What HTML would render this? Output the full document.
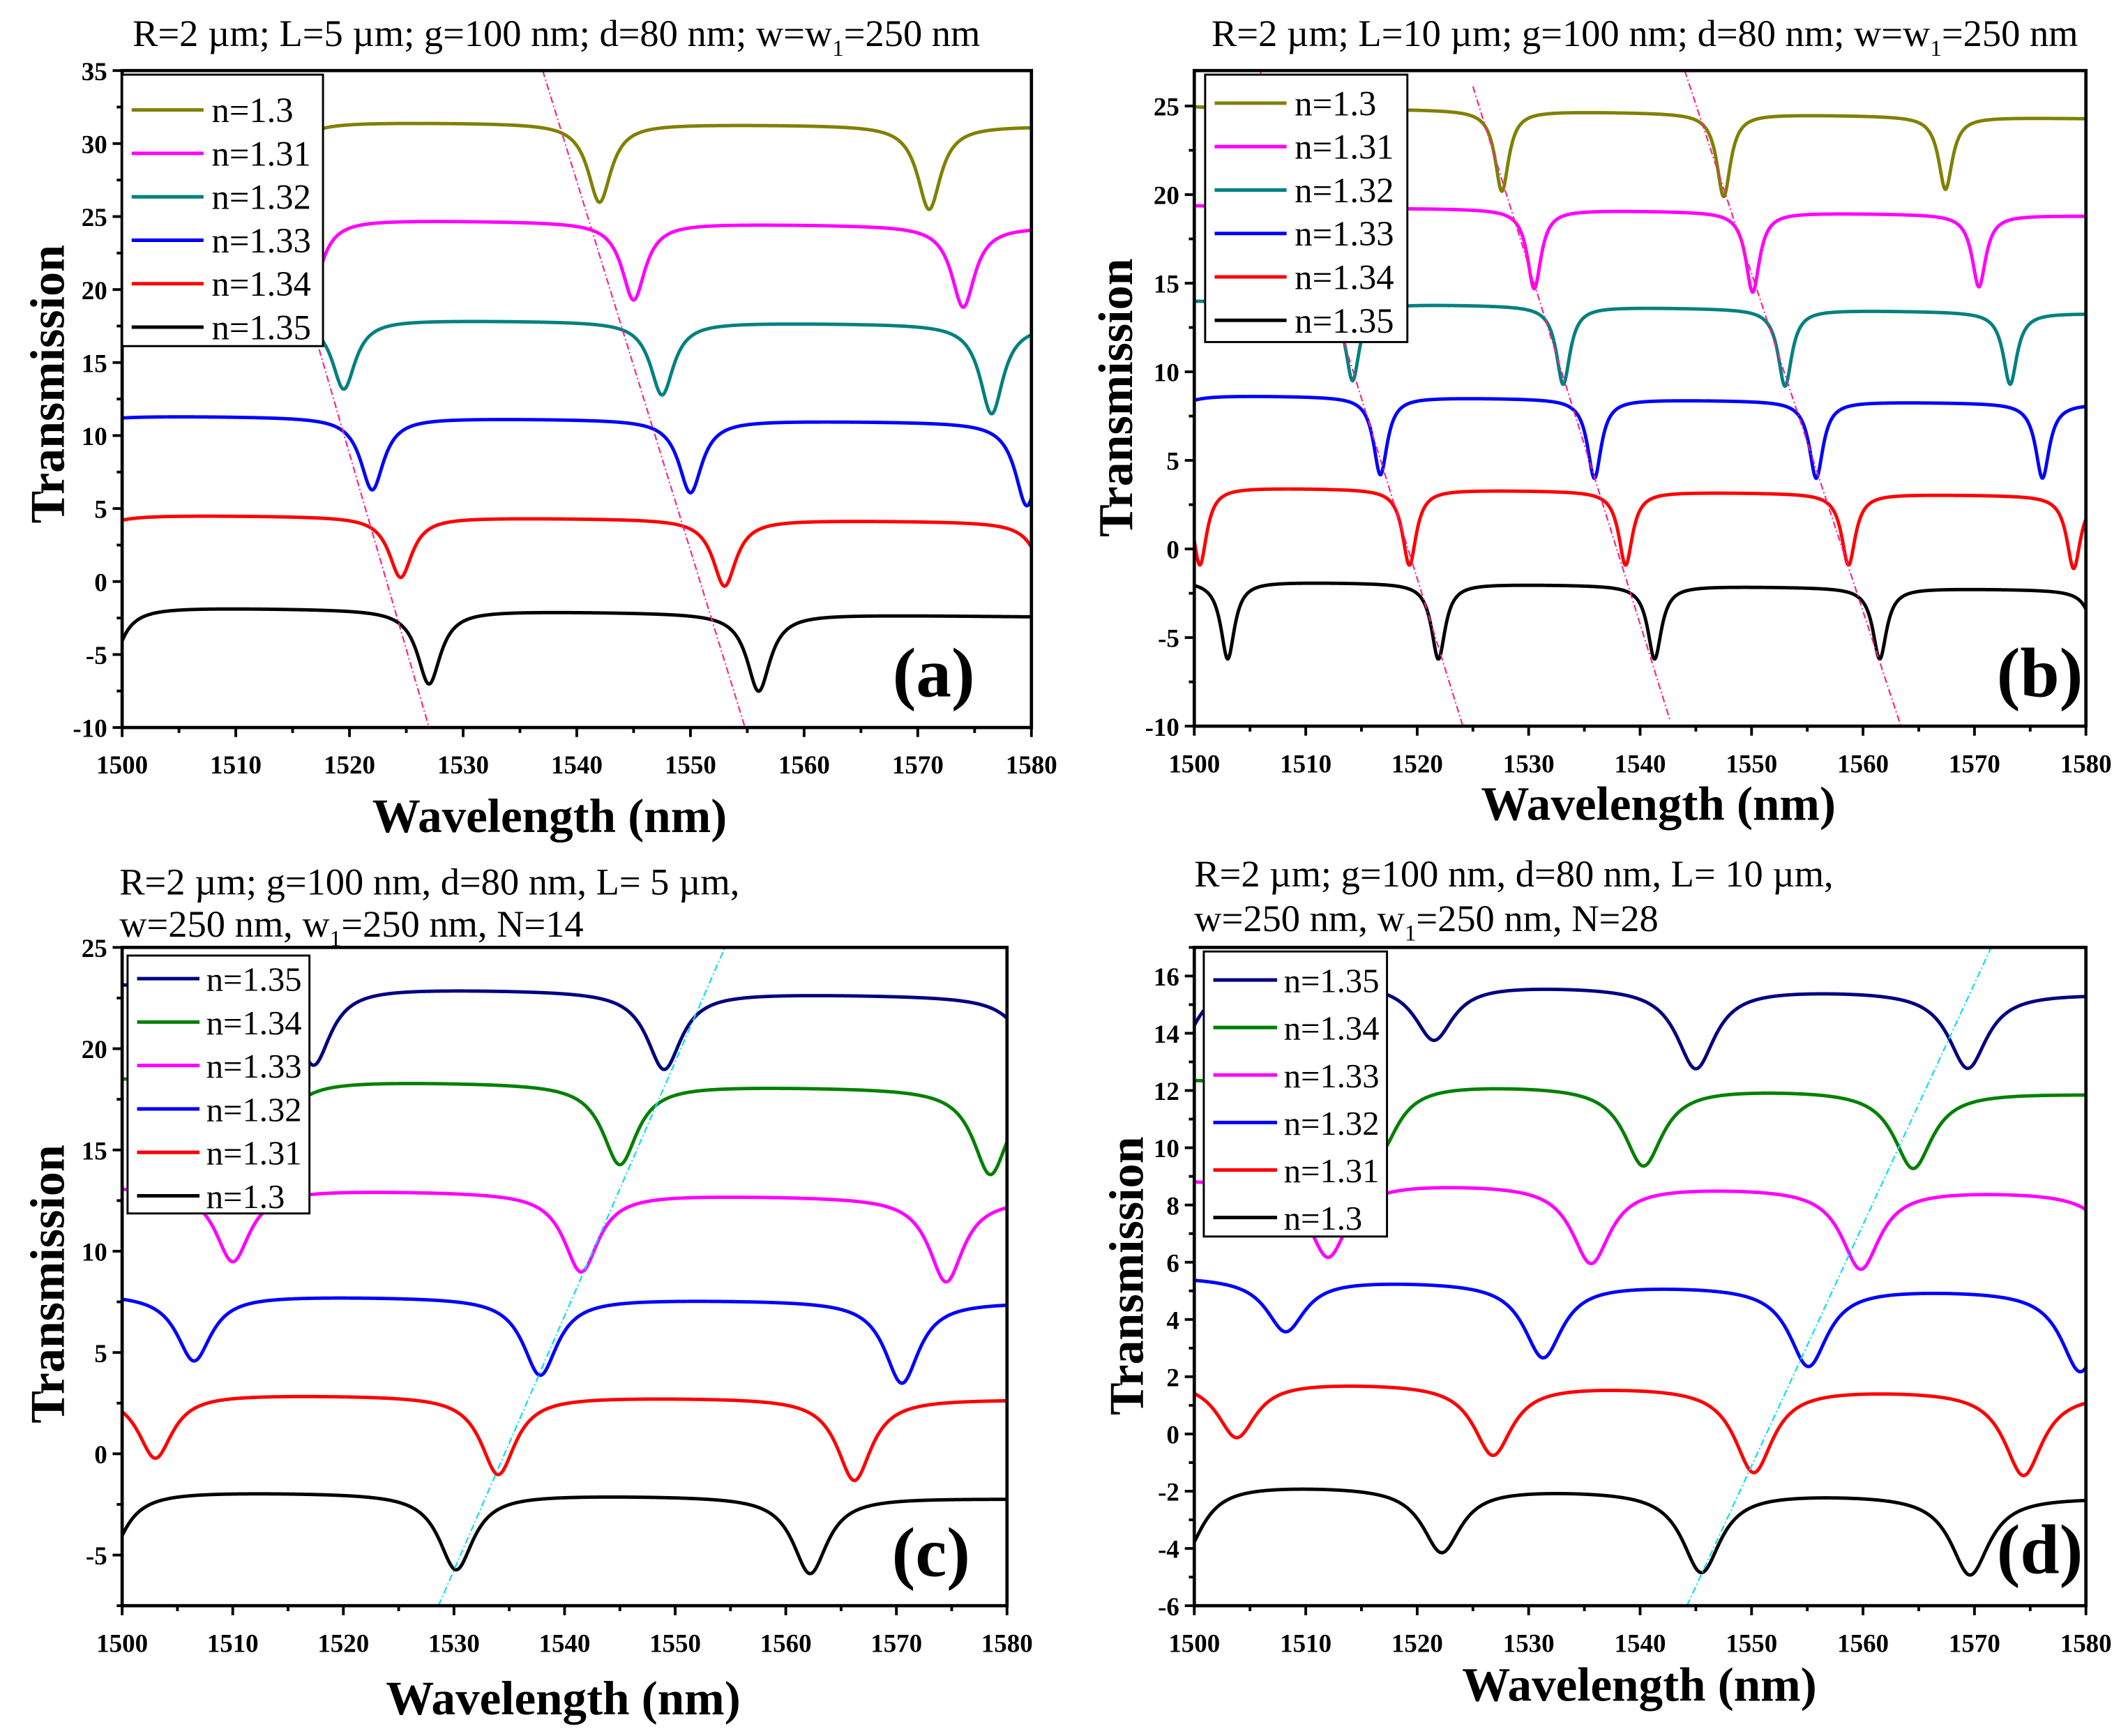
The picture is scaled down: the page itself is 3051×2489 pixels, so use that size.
<!DOCTYPE html>
<html><head><meta charset="utf-8"><title>Transmission spectra</title>
<style>
html,body{margin:0;padding:0;background:#fff;}
svg{display:block;}
text{font-family:"Liberation Serif",serif;}
</style></head>
<body>
<svg id="fig" width="3051" height="2489" viewBox="0 0 1568 1279" preserveAspectRatio="none" xmlns="http://www.w3.org/2000/svg"></svg>
<script>
// ===== Panel (a) data =====
const aLabels=["n=1.3","n=1.31","n=1.32","n=1.33","n=1.34","n=1.35"];
const aColors=["#808000","#ff00ff","#008080","#0000ff","#ff0000","#000000"];
const aBaseL=[31.6,25.0,18.1,11.4,4.6,-1.7];
const aBaseR=[31.2,24.3,17.6,10.9,4.1,-2.4];
const aDipX=[[1513.5,1542,1571],[1516.5,1545,1574],[1491,1519.5,1547.5,1576.5],[1493.5,1522,1550,1579.6],[1496,1524.5,1553,1581.6],[1498.6,1527,1556]];
const aDipMin=[[26,26,25.5],[19.5,19.3,18.8],[13,13.2,12.8,11.5],[6.5,6.3,6.1,5.2],[0.3,0.3,-0.3,-0.5],[-7,-7,-7.5]];
const aGuideX=[[1517,1527],[1537,1554.8]];
const aGuideY=[[16.8,-10],[35,-10]];
// ===== Panel (b) data =====
const bLabels=["n=1.3","n=1.31","n=1.32","n=1.33","n=1.34","n=1.35"];
const bColors=["#808000","#ff00ff","#008080","#0000ff","#ff0000","#000000"];
const bBaseL=[25.0,19.4,14.0,8.7,3.5,-1.8];
const bBaseR=[24.3,18.8,13.3,8.2,3.0,-2.3];
const bDipX=[[1508,1527.6,1547.5,1567.4],[1510.8,1530.5,1550.1,1570.4],[1514.2,1533.1,1553,1573.2],[1497.2,1516.7,1535.9,1555.8,1576.1],[1500.5,1519.3,1538.7,1558.7,1578.9],[1503,1521.9,1541.3,1561.5,1581.2]];
const bDipMin=[[20.2,20.2,19.9,20.3],[14.7,14.7,14.5,14.8],[9.5,9.3,9.2,9.3],[4.2,4.2,4.0,4.0,4.0],[-0.9,-0.9,-0.9,-0.9,-1.1],[-6.2,-6.2,-6.2,-6.2,-6.2]];
const bGuideX=[[1505.9,1524.1],[1525,1542.7],[1544,1563.4]];
const bGuideY=[[27,-10],[26.1,-9.7],[27,-10]];
// ===== Panel (c) data =====
const cLabels=["n=1.35","n=1.34","n=1.33","n=1.32","n=1.31","n=1.3"];
const cColors=["#000080","#008000","#ff00ff","#0000ff","#ff0000","#000000"];
const cBaseL=[23.2,18.6,13.2,7.9,3.0,-1.8];
const cBaseR=[22.6,18.0,12.6,7.5,2.7,-2.2];
const cDipX=[[1517.3,1549,1583],[1513,1545,1578.5],[1510,1541.5,1574.5],[1506.5,1537.8,1570.5],[1503,1534,1566.2],[1498.4,1530.2,1562.2]];
const cDipMin=[[19.2,19.0,18.8],[14.6,14.3,13.8],[9.5,9.0,8.5],[4.6,3.9,3.5],[-0.2,-1.0,-1.3],[-5.6,-5.7,-5.9]];
const cGuideX=[[1528.6,1554.5]];
const cGuideY=[[-7.5,25]];
// ===== Panel (d) data =====
const dLabels=["n=1.35","n=1.34","n=1.33","n=1.32","n=1.31","n=1.3"];
const dColors=["#000080","#008000","#ff00ff","#0000ff","#ff0000","#000000"];
const dBaseL=[15.9,12.4,8.9,5.5,1.9,-1.7];
const dBaseR=[15.4,11.9,8.5,5.0,1.5,-2.2];
const dDipX=[[1498.5,1521.5,1545,1569.4],[1516.5,1540.3,1564.5],[1512,1535.6,1559.8,1584],[1508.2,1531.3,1555.1,1579.5],[1503.8,1526.8,1550.2,1574.4,1597],[1499,1522.2,1545.5,1569.6]];
const dDipMin=[[13.5,13.8,12.8,12.8],[9.8,9.4,9.3],[6.2,6.0,5.8,5.6],[3.6,2.7,2.4,2.2],[-0.1,-0.7,-1.3,-1.4,-1.4],[-4.2,-4.1,-4.8,-4.9]];
const dGuideX=[[1544.2,1571.5]];
const dGuideY=[[-6,17]];
const xTicks=[1500,1510,1520,1530,1540,1550,1560,1570,1580];
const aYTicks=[-10,-5,0,5,10,15,20,25,30,35];
const bYTicks=[-10,-5,0,5,10,15,20,25];
const cYTicks=[-5,0,5,10,15,20,25];
const dYTicks=[-6,-4,-2,0,2,4,6,8,10,12,14,16];

const NS="http://www.w3.org/2000/svg";
const svg=document.getElementById('fig');
function mk(tag,attrs,parent){const e=document.createElementNS(NS,tag);for(const k in attrs)e.setAttribute(k,attrs[k]);(parent||svg).appendChild(e);return e;}

const panels=[
 {id:'a',L:90,R:760,T:52,B:536,ymin:-10,ymax:35,labels:aLabels,colors:aColors,baseL:aBaseL,baseR:aBaseR,dipX:aDipX,dipMin:aDipMin,gx:aGuideX,gy:aGuideY,guide:'#ff1f8f',yticks:aYTicks,yminor:2.5,gamma:1.25,
  leg:{x:90,y:55,w:148,h:200,first:81,step:32,fs:26,lx:60,tx:66},xt:405,xty:613,yt:35,yty:283,pl:[688,513]},
 {id:'b',L:880,R:1537,T:52,B:535,ymin:-10,ymax:27,labels:bLabels,colors:bColors,baseL:bBaseL,baseR:bBaseR,dipX:bDipX,dipMin:bDipMin,gx:bGuideX,gy:bGuideY,guide:'#ff1f8f',yticks:bYTicks,yminor:2.5,gamma:0.75,
  leg:{x:888,y:55,w:149,h:197,first:76,step:32,fs:26,lx:60,tx:66},xt:1222,xty:604,yt:822,yty:293,pl:[1503,513]},
 {id:'c',L:90,R:742,T:698,B:1183,ymin:-7.5,ymax:25,labels:cLabels,colors:cColors,baseL:cBaseL,baseR:cBaseR,dipX:cDipX,dipMin:cDipMin,gx:cGuideX,gy:cGuideY,guide:'#00e0f0',yticks:cYTicks,yminor:2.5,gamma:1.9,
  leg:{x:94,y:704,w:134,h:190,first:721,step:32,fs:25,lx:53,tx:58},xt:415,xty:1263,yt:35,yty:946,pl:[686,1161]},
 {id:'d',L:880,R:1537,T:698,B:1183,ymin:-6,ymax:17,labels:dLabels,colors:dColors,baseL:dBaseL,baseR:dBaseR,dipX:dDipX,dipMin:dDipMin,gx:dGuideX,gy:dGuideY,guide:'#00e0f0',yticks:dYTicks,yminor:1,gamma:2.1,
  leg:{x:887,y:701,w:135,h:210,first:722,step:35,fs:25,lx:54,tx:59},xt:1208,xty:1253,yt:830,yty:940,pl:[1503,1159]}
];

function drawPanel(p){
 const g=mk('g',{});  
 const X=v=>p.L+(v-1500)/80*(p.R-p.L);
 const Y=v=>p.B-(v-p.ymin)/(p.ymax-p.ymin)*(p.B-p.T);
 const cp=mk('clipPath',{id:'clip'+p.id},g); mk('rect',{x:p.L,y:p.T,width:p.R-p.L,height:p.B-p.T},cp);
 const plot=mk('g',{'clip-path':'url(#clip'+p.id+')'},g);
  
 for(let s=0;s<p.labels.length;s++){
  const bl=p.baseL[s],br=p.baseR[s];
  const base=x=>bl+(br-bl)*(x-1500)/80;
  const depths=p.dipX[s].map((x0,i)=>base(x0)-p.dipMin[s][i]);
  let d='';
  for(let i=0;i<=1200;i++){
   const x=1500+80*i/1200; let y=base(x);
   p.dipX[s].forEach((x0,k)=>{const u=(x-x0)/p.gamma; y-=depths[k]/(1+u*u);});
   d+=(i?'L':'M')+X(x).toFixed(2)+' '+Y(y).toFixed(2);
  }
  const path=mk('path',{d:d,fill:'none',stroke:p.colors[s],'stroke-width':2.5,'stroke-linejoin':'round'},plot);
  
  
 }
 p.gx.forEach((gx,i)=>{
  const ln=mk('line',{x1:X(gx[0]),y1:Y(p.gy[i][0]),x2:X(gx[1]),y2:Y(p.gy[i][1]),stroke:p.guide,'stroke-width':1.1,'stroke-dasharray':'5 2 1 2'},g);
   
 });
 const fr=mk('rect',{x:p.L,y:p.T,width:p.R-p.L,height:p.B-p.T,fill:'none',stroke:'#000','stroke-width':2.4},g);
  
 const xa=mk('g',{},g);  
 for(let v=1500;v<=1580;v+=5){const major=v%10===0;mk('line',{x1:X(v),x2:X(v),y1:p.B,y2:p.B+(major?7:4),stroke:'#000','stroke-width':2},xa);}
 xTicks.forEach(v=>{const t=mk('text',{x:X(v),y:p.B+34,'text-anchor':'middle','font-size':19,'font-weight':'bold'},xa);t.textContent=v;});
 const ya=mk('g',{},g);  
 for(let v=p.ymin;v<=p.ymax+1e-6;v+=p.yminor){const major=p.yticks.some(t=>Math.abs(t-v)<1e-6);mk('line',{x1:p.L,x2:p.L-(major?7:4),y1:Y(v),y2:Y(v),stroke:'#000','stroke-width':2},ya);}
 p.yticks.forEach(v=>{const t=mk('text',{x:p.L-11,y:Y(v)+7,'text-anchor':'end','font-size':19,'font-weight':'bold'},ya);t.textContent=v;});
 const xt=mk('text',{x:p.xt,y:p.xty,'text-anchor':'middle','font-size':35.5,'font-weight':'bold'},g); xt.textContent='Wavelength (nm)';
  
 const yt=mk('text',{x:0,y:0,'text-anchor':'middle','font-size':36,'font-weight':'bold',transform:'translate('+(p.yt+12)+','+p.yty+') rotate(-90)'},g); yt.textContent='Transmission';
  
 const lg=mk('g',{},g);  
 mk('rect',{x:p.leg.x,y:p.leg.y,width:p.leg.w,height:p.leg.h,fill:'#fff',stroke:'#000','stroke-width':1.5},lg);
 p.labels.forEach((lab,i)=>{
  const e=mk('g',{},lg);  
  const yy=p.leg.first+i*p.leg.step;
  mk('line',{x1:p.leg.x+7,x2:p.leg.x+p.leg.lx,y1:yy,y2:yy,stroke:p.colors[i],'stroke-width':2.6},e);
  const t=mk('text',{x:p.leg.x+p.leg.tx,y:yy+9,'font-size':p.leg.fs},e); t.textContent=lab;
 });
 const pl=mk('text',{x:p.pl[0],y:p.pl[1],'text-anchor':'middle','font-size':52,'font-weight':'bold'},g); pl.textContent='('+p.id+')';
  
}
panels.forEach(drawPanel);
</script>
<script>
(function(){
 const NS="http://www.w3.org/2000/svg";const svg=document.getElementById('fig');
 function title(x,y,anchor,pre,post,name){
  const t=document.createElementNS(NS,'text');
  t.setAttribute('x',x);t.setAttribute('y',y);t.setAttribute('text-anchor',anchor);t.setAttribute('font-size',28);
  
  
  t.appendChild(document.createTextNode(pre));
  const s=document.createElementNS(NS,'tspan');s.setAttribute('font-size',17);s.setAttribute('dy',7);s.textContent='1';t.appendChild(s);
  const s2=document.createElementNS(NS,'tspan');s2.setAttribute('dy',-7);s2.textContent=post;t.appendChild(s2);
  svg.appendChild(t);
 }
 title(410,34,'middle','R=2 µm; L=5 µm; g=100 nm; d=80 nm; w=w','=250 nm','title-a');
 title(1212,34,'middle','R=2 µm; L=10 µm; g=100 nm; d=80 nm; w=w','=250 nm','title-b');
 const mkT=(x,y,s,name)=>{const t=document.createElementNS(NS,'text');t.setAttribute('x',x);t.setAttribute('y',y);t.setAttribute('font-size',28);
  
  
  t.textContent=s;svg.appendChild(t);};
 mkT(88,659,'R=2 µm; g=100 nm, d=80 nm, L= 5 µm,','title-c-line1');
 title(88,690,'start','w=250 nm, w','=250 nm, N=14','title-c-line2');
 mkT(880,653,'R=2 µm; g=100 nm, d=80 nm, L= 10 µm,','title-d-line1');
 title(880,686,'start','w=250 nm, w','=250 nm, N=28','title-d-line2');
})();
</script>
</body></html>
